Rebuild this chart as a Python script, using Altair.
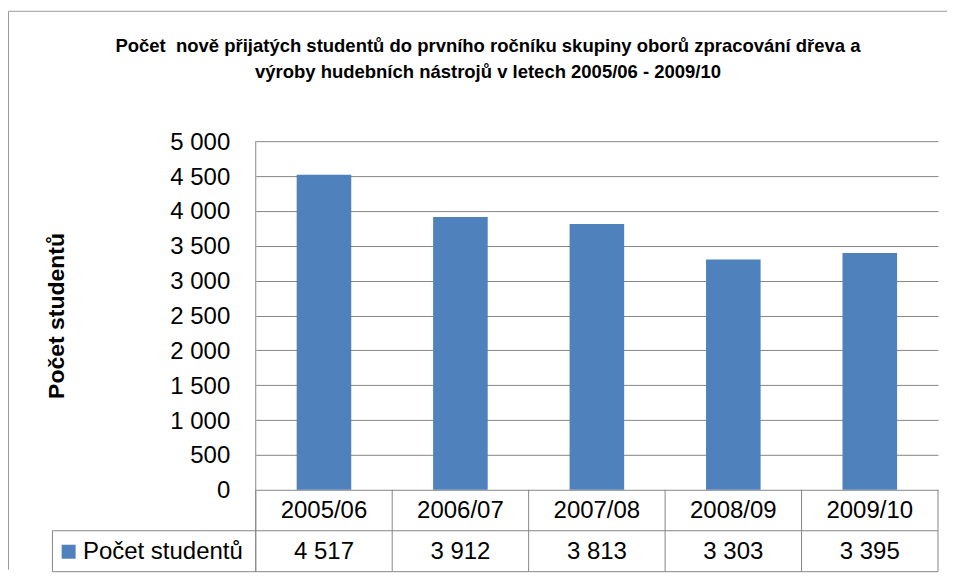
import altair as alt
import pandas as pd

# ---- data ----
years = ["2005/06", "2006/07", "2007/08", "2008/09", "2009/10"]
students = [4517, 3912, 3813, 3303, 3395]
y_ticks = [0, 500, 1000, 1500, 2000, 2500, 3000, 3500, 4000, 4500, 5000]
title_lines = [
    "Počet \u00a0nově přijatých studentů do prvního ročníku skupiny oborů zpracování dřeva a",
    "výroby hudebních nástrojů v letech 2005/06 - 2009/10",
]
series_name = ["Počet studentů"]
axis_title = "Počet studentů"

df = pd.DataFrame({"year": years, "value": students})
df["label"] = [f"{v:,}".replace(",", " ") for v in students]
one = pd.DataFrame({"k": [0]})
legend_df = pd.DataFrame({"name": series_name})
title_df = pd.DataFrame({"line": title_lines, "row": [0, 1]})

# ---- layout / style ----
W, H = 683, 349
ROW = 41
GRAY = "#868686"
BLUE = "#4F81BD"
FONT = "Liberation Sans"
FS = 24

xband = alt.X("year:N", sort=years, scale=alt.Scale(paddingInner=0, paddingOuter=0), axis=None)

bars = alt.Chart(df).mark_bar(color=BLUE, width=alt.RelativeBandSize(0.4)).encode(
    x=xband,
    y=alt.Y(
        "value:Q",
        scale=alt.Scale(domain=[0, 5000], nice=False),
        axis=alt.Axis(
            values=y_ticks,
            grid=True,
            gridColor=GRAY,
            gridOpacity=1,
            domain=False,
            ticks=False,
            labelExpr="replace(format(datum.value, ','), ',', ' ')",
            labelFont=FONT,
            labelFontSize=FS,
            labelColor="black",
            labelPadding=26,
            labelOffset=1,
            title=axis_title,
            titleFont=FONT,
            titleFontSize=23,
            titleFontWeight="bold",
            titleColor="black",
            titleAngle=270,
            titleAlign="center",
            titleBaseline="alphabetic",
            titleX=-192,
            titleY=H / 2,
        ),
    ),
)

# table: vertical cell boundaries
vlines = alt.Chart(df).mark_rule(color=GRAY).encode(
    x=alt.X("year:N", sort=years, bandPosition=0),
    y=alt.value(H),
    y2=alt.value(H + 2 * ROW),
)
vlast = alt.Chart(df).transform_filter(alt.datum.year == years[-1]).mark_rule(color=GRAY).encode(
    x=alt.X("year:N", sort=years, bandPosition=1),
    y=alt.value(H),
    y2=alt.value(H + 2 * ROW),
)
axis_line = alt.Chart(one).mark_rule(color=GRAY).encode(
    x=alt.value(0), y=alt.value(0), y2=alt.value(H + 2 * ROW)
)
hline1 = alt.Chart(one).mark_rule(color=GRAY).encode(
    x=alt.value(-203.5), x2=alt.value(W), y=alt.value(H + ROW)
)
hline2 = alt.Chart(one).mark_rule(color=GRAY).encode(
    x=alt.value(-203.5), x2=alt.value(W), y=alt.value(H + 2 * ROW)
)
leg_left = alt.Chart(one).mark_rule(color=GRAY).encode(
    x=alt.value(-203.5), y=alt.value(H + ROW), y2=alt.value(H + 2 * ROW)
)

# table text
cat_text = alt.Chart(df).mark_text(font=FONT, fontSize=FS, color="black", baseline="middle").encode(
    x=alt.X("year:N", sort=years), y=alt.value(H + ROW / 2 + 1), text="year:N"
)
val_text = alt.Chart(df).mark_text(font=FONT, fontSize=FS, color="black", baseline="middle").encode(
    x=alt.X("year:N", sort=years), y=alt.value(H + ROW * 1.5 + 1), text="label:N"
)
leg_sq = alt.Chart(legend_df).mark_square(color=BLUE, opacity=1, size=196).encode(
    x=alt.value(-187.3), y=alt.value(H + ROW * 1.5 + 0.5)
)
leg_text = alt.Chart(legend_df).mark_text(
    font=FONT, fontSize=FS, color="black", align="left", baseline="middle"
).encode(x=alt.value(-173), y=alt.value(H + ROW * 1.5 + 1), text="name:N")

# chart title as text lines
title_text = alt.Chart(title_df).mark_text(
    font=FONT, fontSize=18.5, fontWeight="bold", color="black", align="center", baseline="alphabetic"
).encode(
    x=alt.value(232.5),
    y=alt.Y("row:Q", scale=alt.Scale(domain=[0, 1], range=[-89.5, -63.5]), axis=None),
    text="line:N",
)

# outer chart border (top + left visible)
border_top = alt.Chart(one).mark_rule(color="#9a9a9a").encode(
    x=alt.value(-247.5), x2=alt.value(692), y=alt.value(-130)
)
border_left = alt.Chart(one).mark_rule(color="#9a9a9a").encode(
    x=alt.value(-247.5), y=alt.value(-130), y2=alt.value(429)
)

chart = alt.layer(
    bars, vlines, vlast, axis_line, hline1, hline2, leg_left,
    cat_text, val_text, leg_sq, leg_text, title_text, border_top, border_left,
).resolve_scale(y="independent").properties(
    width=W, height=H, padding={"left": 0, "top": 2, "right": 0, "bottom": 0}, background="white"
).configure_view(stroke=None)

chart.save("out.html", embed_options={"renderer": "svg", "actions": False})
